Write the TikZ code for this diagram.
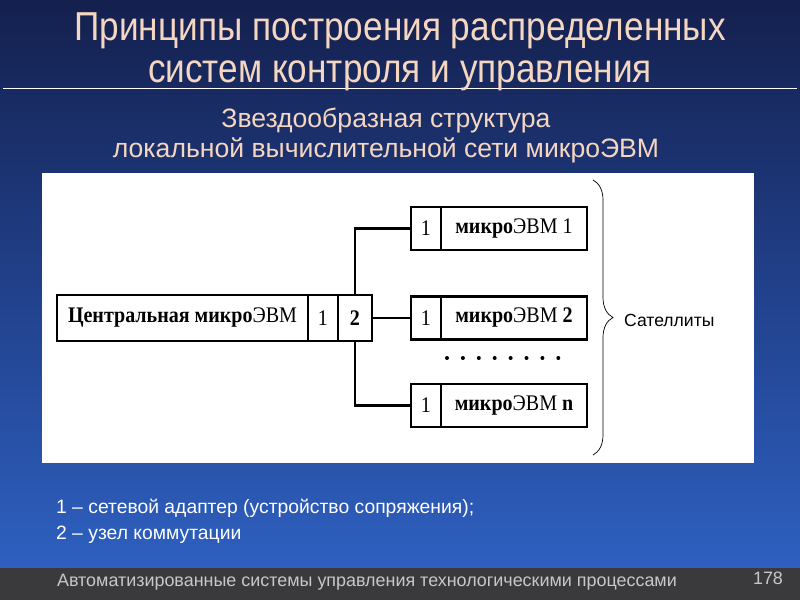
\documentclass[tikz,border=0pt]{standalone}
\usepackage{fontspec}
\setmainfont{Liberation Sans}
\newfontfamily\narrowfont[FakeStretch=0.87]{Liberation Sans}
\newfontfamily\boxfont[FakeStretch=0.9]{Liberation Serif}
\usetikzlibrary{positioning, decorations.pathreplacing}
\definecolor{slidetop}{RGB}{20,32,78}
\definecolor{slidemid}{RGB}{33,64,138}
\definecolor{slidebot}{RGB}{46,96,192}
\definecolor{titlepeach}{RGB}{245,214,192}
\definecolor{footgray}{RGB}{58,58,60}
\definecolor{foottext}{RGB}{200,200,204}

\begin{document}
\begin{tikzpicture}[
    x=0.3mm, y=-0.3mm,
    node distance=0pt,
    cell/.style={rectangle, draw=black, line width=2.2pt, inner sep=0pt, outer sep=0pt, font=\boxfont\fontsize{19pt}{21pt}\selectfont},
    central/.style={cell, minimum height=13.8mm},
    sat/.style={cell, minimum height=12.9mm},
    wire/.style={line width=2pt},
    legend/.style={anchor=west, text=white, font=\fontsize{16.5pt}{19pt}\selectfont}
]

    % slide background
    \useasboundingbox (0,0) rectangle (800,600);
    \shade[top color=slidetop, bottom color=slidebot, middle color=slidemid] (0,0) rectangle (800,568);
    \fill[footgray] (0,568) rectangle (800,600);
    \draw[white, line width=0.8pt] (3,88) -- (797,88);
    \fill[white] (42,173) rectangle (754,463);

    \node[text=titlepeach, align=center, font=\narrowfont\fontsize{34.5pt}{36pt}\selectfont] (title) at (400,52) {Принципы построения распределенных\\систем контроля и управления};
    \node[text=titlepeach, align=center, font=\fontsize{22.7pt}{25.6pt}\selectfont] (subtitle) at (386,136) {Звездообразная структура\\локальной вычислительной сети микроЭВМ};

    % central computer
    \node[central, minimum width=75.3mm] (cname) at (182.5,318) {\textbf{Центральная микро}ЭВМ};
    \node[central, minimum width=9mm, right=of cname] (cadapt) {1};
    \node[central, minimum width=10.2mm, right=of cadapt] (cswitch) {\textbf{2}};

    % satellites
    \node[sat, minimum width=9mm] (p1) at (426,228.5) {1};
    \node[sat, minimum width=43.8mm, right=of p1] (s1) {\textbf{микро}ЭВМ 1};
    \node[sat, minimum width=9mm] (p2) at (426,318) {1};
    \node[sat, minimum width=43.8mm, right=of p2] (s2) {\textbf{микро}ЭВМ \textbf{2}};
    \node[sat, minimum width=9mm] (pn) at (426,405.5) {1};
    \node[sat, minimum width=43.8mm, right=of pn] (sn) {\textbf{микро}ЭВМ \textbf{n}};

    \draw[wire] (cswitch.east) -- (p2.west);
    \draw[wire] (cswitch.north) |- (p1.west);
    \draw[wire] (cswitch.south) |- (pn.west);

    \foreach \i in {0,...,7}
        \fill (447+\i*15.9,358) circle (2);

    % brace
    \coordinate (btop) at (593,180);
    \coordinate (bbot) at (593,455);
    \draw[line width=0.6pt, decorate, decoration={brace, amplitude=6mm}] (btop) -- (bbot);
    \node[anchor=west, font=\fontsize{15pt}{17pt}\selectfont] (satlabel) at (620,320) {Сателлиты};

    % legend
    \node[legend] (leg1) at (52,508) {1 – сетевой адаптер (устройство сопряжения);};
    \node[legend] (leg2) at (52,535) {2 – узел коммутации};

    % footer
    \node[anchor=west, text=foottext, font=\fontsize{15.3pt}{17pt}\selectfont] (footer) at (53,582) {Автоматизированные системы управления технологическими процессами};
    \node[text=foottext, font=\fontsize{15.3pt}{17pt}\selectfont] (pagenum) at (768,578) {178};

\end{tikzpicture}
\end{document}
